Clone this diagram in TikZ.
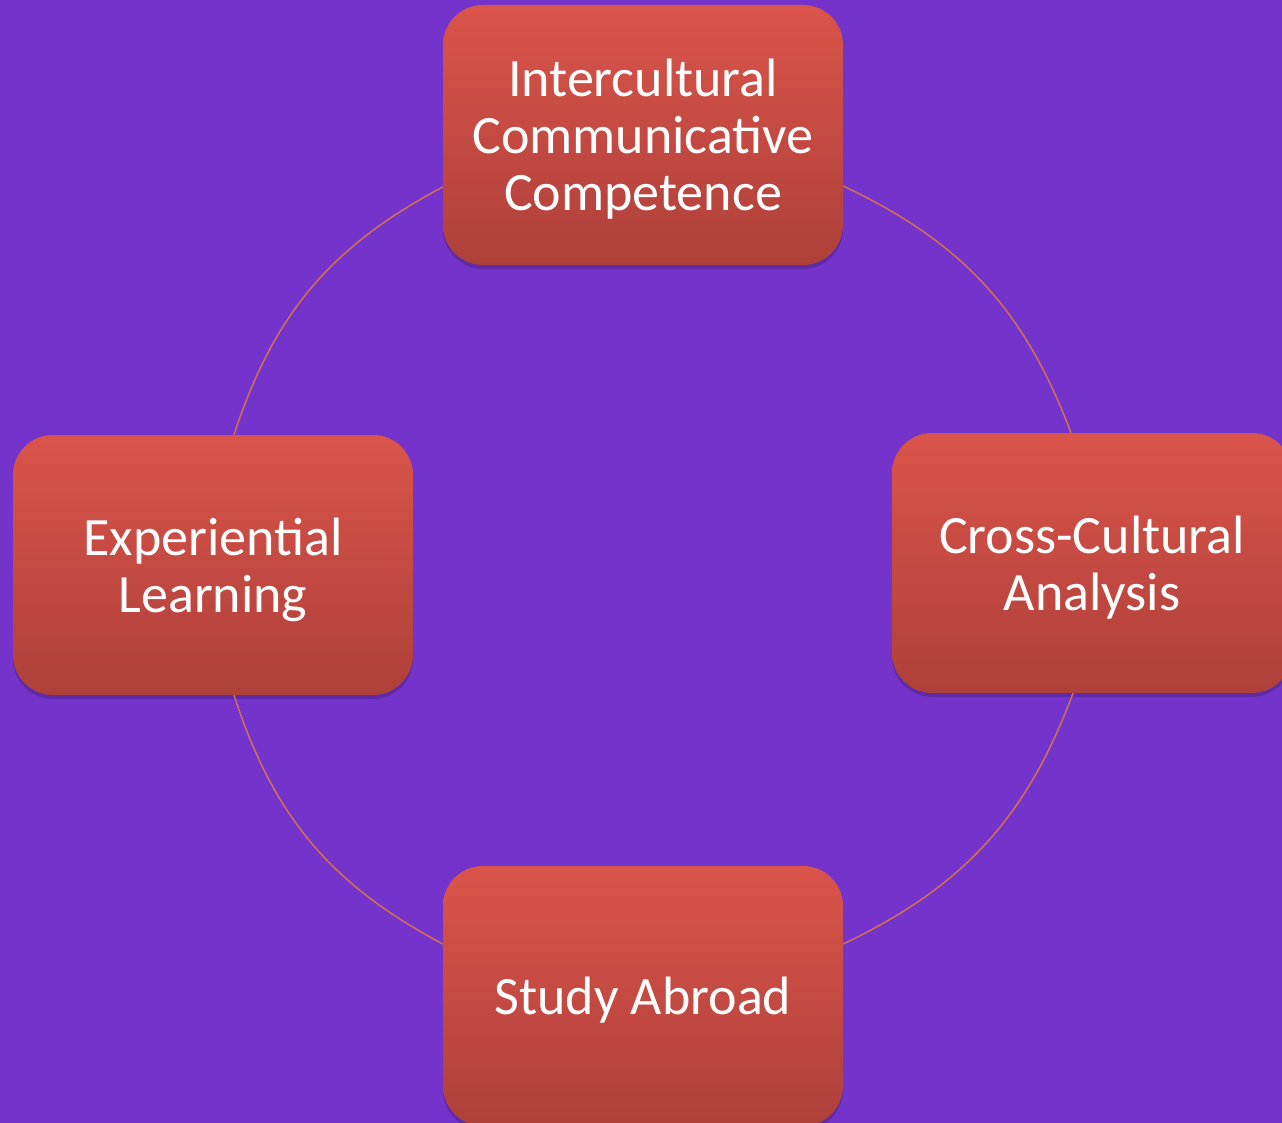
\documentclass[tikz,border=0pt]{standalone}
\usepackage{fontspec}
\setmainfont{Carlito}
\usetikzlibrary{shadows}
\definecolor{bgpurple}{RGB}{116,52,204}
\definecolor{boxtop}{RGB}{218,84,74}
\definecolor{boxbottom}{RGB}{174,64,58}
\definecolor{arccolor}{RGB}{212,112,82}
\tikzset{
  cyclebox/.style={rounded corners=40pt, minimum width=400pt, minimum height=260pt,
    inner sep=0pt, text depth=0pt, top color=boxtop, bottom color=boxbottom, text=white,
    align=center, font=\fontsize{54}{57}\selectfont,
    drop shadow={shadow xshift=0pt, shadow yshift=-4pt, opacity=0.25, fill=black!70!bgpurple}},
  cyclearc/.style={draw=arccolor, line width=1.5pt}
}
\begin{document}
\begin{tikzpicture}[x=1pt,y=-1pt]
\fill[bgpurple] (0,0) rectangle (1282,1123);
\useasboundingbox (0,0) rectangle (1282,1123);
\clip (0,0) rectangle (1282,1123);

\node[cyclebox] (top) at (643,135) {Intercultural\\Communicative\\Competence};
\node[cyclebox] (right) at (1092,563) {Cross-Cultural\\Analysis};
\node[cyclebox] (bottom) at (643,996) {Study Abroad};
\node[cyclebox] (left) at (213,565) {Experiential\\Learning};

\draw[cyclearc] ([yshift=-51pt]top.east) to[bend left=22] ([xshift=-21pt]right.north);
\draw[cyclearc] ([xshift=-19pt]right.south) to[bend left=22] ([yshift=52pt]bottom.east);
\draw[cyclearc] ([xshift=21pt]left.south) to[bend right=22] ([yshift=52pt]bottom.west);
\draw[cyclearc] ([yshift=-52pt]top.west) to[bend right=22] ([xshift=21pt]left.north);
\end{tikzpicture}
\end{document}
